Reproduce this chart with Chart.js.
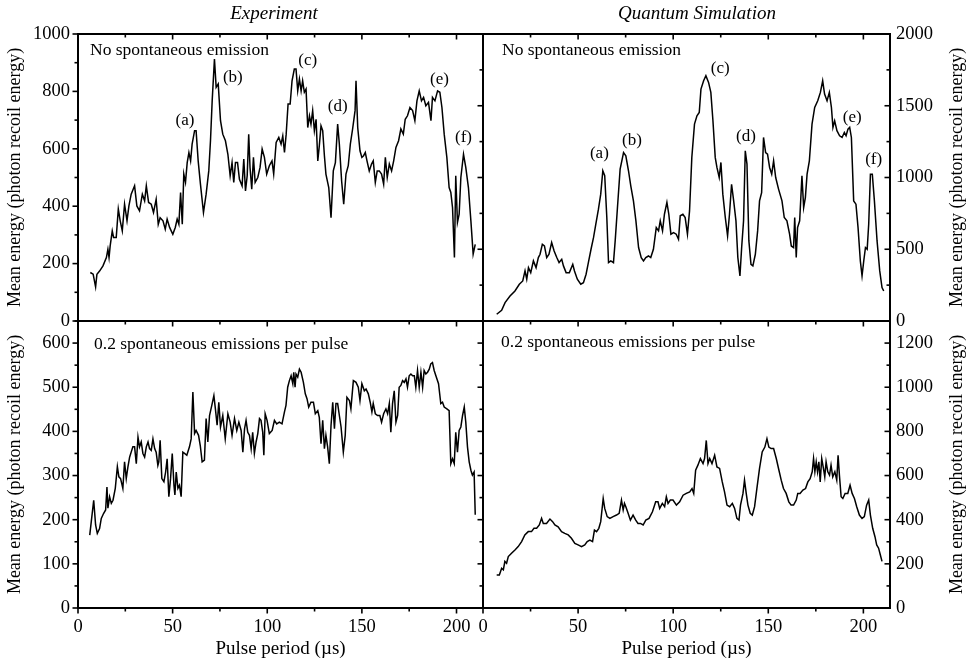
<!DOCTYPE html>
<html><head><meta charset="utf-8">
<script src="https://cdn.jsdelivr.net/npm/chart.js@4/dist/chart.umd.min.js"></script>
<style>
html,body{margin:0;padding:0;background:#fff;}
#wrap{position:relative;width:966px;height:664px;background:#fff;}
canvas{position:absolute;left:0;top:0;}
</style></head><body>
<div id="wrap">
<canvas id="tl" width="966" height="664"></canvas>
<canvas id="bl" width="966" height="664"></canvas>
<canvas id="tr" width="966" height="664"></canvas>
<canvas id="br" width="966" height="664"></canvas>
</div>
<script>
// ---------- data (pulse period in µs, mean energy in photon recoil energies) ----------
const columnTitles = ["Experiment", "Quantum Simulation"];
const panelNotes = ["No spontaneous emission", "0.2 spontaneous emissions per pulse"];
const xTitle = "Pulse period (\u00b5s)";
const yTitle = "Mean energy (photon recoil energy)";
const peakNames = ["(a)", "(b)", "(c)", "(d)", "(e)", "(f)"];
const expPeakAnchors = [[56.5,700],[81.8,850],[121.4,909],[137.2,746],[191,843],[203.7,641]];
const simPeakAnchors = [[61.2,1164],[78.3,1261],[124.7,1761],[138.3,1284],[194.1,1419],[205.4,1127]];

const expNoSE = [[6.5,169],[8,163],[9.3,119],[10,163],[11.4,174],[13.2,192],[15,221],[15.8,250],[16.4,221],[17,262],[18.1,314],[18.8,291],[20.2,291],[21.3,390],[22.3,349],[23.4,314],[24.6,407],[25.9,349],[26.9,401],[28.1,442],[29.9,471],[31.1,401],[32.5,384],[34,442],[35.2,419],[36.1,471],[37.3,413],[38.7,407],[39.9,378],[41.3,424],[42.4,337],[43.4,360],[44.9,349],[46.1,320],[47.1,355],[48.4,326],[50.1,302],[51.4,326],[52.4,355],[53.3,337],[54.2,448],[55.1,337],[55.9,512],[56.8,483],[57.7,552],[58.6,587],[59.5,558],[60.3,616],[61.6,663],[62.4,663],[63.5,558],[64.7,477],[66.3,378],[67.7,442],[69.1,523],[70,628],[70.9,767],[72.1,913],[73,814],[74.1,826],[75.3,698],[76.5,651],[77.9,628],[79.2,581],[80.4,506],[81.4,552],[82.3,483],[83.2,552],[84.3,552],[85.3,494],[86.7,471],[87.6,564],[88.5,453],[89.4,506],[90.2,651],[90.9,535],[91.8,459],[92.7,570],[93.6,483],[95,500],[96.2,535],[97.3,599],[98.5,570],[99.7,512],[101.1,541],[102.5,558],[103.4,512],[104.7,622],[106.1,640],[107.3,616],[108.2,645],[109.1,587],[110,651],[111,756],[112.1,756],[113.1,837],[114.3,878],[115.2,878],[116.1,802],[117,843],[117.9,802],[118.7,837],[119.6,797],[120.5,808],[121.4,674],[122.3,715],[123.1,686],[124,733],[124.9,663],[125.8,703],[126.7,558],[127.5,610],[128.4,680],[129.3,663],[130.2,576],[131,512],[132.5,465],[133.7,360],[134.9,523],[136,552],[137.2,686],[138.1,616],[139.3,488],[140.4,407],[141.6,512],[142.8,541],[143.9,616],[145.1,669],[146.4,733],[146.9,837],[147.8,674],[149,593],[150,570],[150.9,576],[151.8,587],[152.7,558],[153.9,523],[155.1,547],[156,558],[157.1,483],[158.1,523],[159.2,523],[160.4,512],[161.5,477],[162.4,570],[163.4,500],[164.5,547],[165.7,523],[166.8,558],[168,605],[169.4,628],[170.6,669],[171.9,651],[172.9,703],[174.1,715],[175.4,744],[176.8,733],[178,698],[179.1,767],[180.3,802],[181.5,767],[182.6,779],[183.8,750],[185.2,762],[186.5,698],[187.3,779],[188.6,767],[190,802],[191.2,797],[192.3,744],[193.5,651],[194.9,570],[196.1,465],[197,448],[197.9,395],[198.9,221],[199.6,506],[200.5,343],[201.4,372],[202.3,500],[203.7,581],[204.9,535],[206.3,465],[207.6,349],[208.8,233],[209.9,267]];

const simNoSE = [[7.2,47],[9.8,74],[11.6,128],[14.2,174],[16.8,209],[19.1,256],[20.9,279],[22.1,349],[23,291],[23.9,372],[25.1,337],[26.5,419],[27.9,372],[29.1,442],[30,465],[31.2,535],[32.3,523],[33.5,442],[34.7,465],[36.1,547],[37.4,488],[38.8,442],[40,407],[41.4,430],[42.3,384],[43.7,337],[45.4,337],[47.2,395],[48.1,349],[49.6,291],[51.4,256],[52.8,267],[54.2,326],[55.4,407],[56.8,500],[58.1,581],[59.3,674],[60.7,779],[61.9,884],[63,1047],[64,1012],[65.1,721],[66,407],[67.2,419],[68.6,407],[69.5,558],[70.7,791],[72.1,1058],[73.9,1174],[75.1,1151],[76.5,1047],[77.7,942],[79.1,837],[80.4,698],[81.8,512],[83.2,442],[84.4,419],[85.6,442],[87,453],[88.2,442],[89.6,500],[91.1,651],[92.3,628],[93.2,698],[94.4,628],[95.4,744],[96.7,826],[97.7,744],[98.8,605],[100.2,616],[101.6,605],[102.8,570],[103.7,733],[105.1,744],[106.3,721],[107.5,605],[108.6,767],[109.8,1140],[111.2,1372],[112.5,1430],[113.7,1453],[114.6,1616],[116,1674],[117.2,1709],[118.6,1663],[119.8,1593],[120.9,1395],[122.1,1140],[123,1070],[124.2,1000],[125.1,1105],[126.1,884],[127.4,721],[128.6,593],[129.6,744],[130.7,953],[131.8,837],[133,698],[134,442],[135.1,314],[136,512],[137,698],[137.9,1186],[138.8,1093],[139.8,558],[140.9,395],[141.9,384],[143.2,465],[144.4,628],[145.4,837],[146.5,895],[147.5,1279],[148.6,1174],[149.6,1163],[150.7,1070],[151.8,1023],[152.8,1116],[153.9,1000],[155.4,919],[157.2,837],[158.4,721],[159.8,698],[161.2,605],[162.1,523],[163.3,512],[163.9,721],[164.7,442],[165.4,651],[166.5,698],[167.7,1012],[168.6,791],[169.5,860],[170.4,1023],[171.6,1116],[173,1372],[174.4,1488],[176,1535],[177.4,1593],[178.6,1674],[179.6,1581],[180.9,1535],[182.1,1593],[183.2,1488],[184,1349],[184.9,1395],[186.1,1326],[187.5,1291],[188.8,1279],[190,1314],[190.9,1291],[191.9,1337],[192.8,1349],[193.7,1279],[194.9,837],[196.1,814],[197.2,651],[198.4,419],[199.3,314],[200.2,419],[201.1,512],[202,500],[202.8,674],[203.7,1023],[204.7,1023],[205.8,837],[207.2,558],[208.6,349],[209.8,233],[210.7,209]];

const expSE = [[6.2,165],[7,195],[8.3,244],[9.3,188],[10.2,169],[11.4,180],[12.3,203],[13.5,214],[14.6,222],[15.3,274],[15.8,226],[16.7,252],[17.6,237],[18.5,244],[19.7,271],[20.8,320],[21.6,297],[22.5,293],[23.7,271],[24.6,331],[25.5,293],[26.4,320],[27.3,342],[28.1,353],[29,365],[29.9,365],[30.8,327],[31.7,387],[32.5,365],[33.4,376],[34.3,350],[35.2,342],[36.1,365],[37,376],[37.8,361],[38.7,357],[39.6,383],[40.5,361],[41.3,353],[42.2,323],[42.7,331],[43.4,380],[44.3,293],[45.4,286],[46.3,308],[47.1,338],[48,252],[48.9,293],[49.8,350],[50.7,278],[51.2,256],[51.9,308],[52.8,271],[53.6,278],[54.5,252],[55.4,353],[56.3,350],[57.5,346],[58.9,365],[59.8,383],[60.7,489],[61.6,395],[62.4,402],[63.7,391],[64.6,368],[65.6,331],[66.8,335],[67.7,429],[68.6,376],[69.5,436],[70.7,459],[71.8,481],[72.6,451],[73.5,414],[74.4,466],[75.3,410],[76.5,436],[77.8,383],[79.2,440],[80.4,421],[81.4,391],[82.7,429],[83.9,402],[85,421],[86.2,402],[87.1,353],[88,406],[88.8,425],[89.7,398],[90.6,391],[91.5,361],[92.3,398],[93.2,350],[94.1,376],[95,395],[95.9,429],[96.7,425],[97.6,398],[98.2,346],[98.9,440],[99.9,425],[101.1,395],[102.6,402],[103.8,425],[105,417],[106.4,421],[107.8,417],[109.1,444],[109.9,459],[110.8,500],[111.7,515],[112.6,526],[113.5,508],[114,534],[114.7,500],[115.2,530],[116.1,523],[117,541],[117.9,534],[119.1,511],[120.1,485],[121,474],[121.9,455],[123.1,466],[124.4,466],[125.4,440],[126.7,447],[127.5,432],[128.4,372],[129.3,425],[130.2,361],[131,391],[131.9,365],[132.8,327],[133.7,414],[134.6,466],[135.5,406],[136.3,463],[137.2,463],[138.1,436],[139,410],[140.2,353],[141.2,391],[142.1,477],[143.4,470],[144.2,451],[145.5,515],[146.9,511],[148.1,500],[149,470],[150,508],[151.3,492],[152.2,496],[153.4,485],[154.4,466],[155.3,444],[156,463],[157.1,440],[158.3,436],[159.5,436],[160.4,421],[161.5,440],[162.7,451],[163.6,440],[164.5,463],[165.3,398],[166.2,463],[167.1,492],[168,421],[168.9,436],[169.7,500],[170.6,504],[171.5,515],[172.4,511],[173.3,519],[174.1,500],[175,526],[175.9,530],[176.8,526],[177.7,526],[178.5,500],[179.4,538],[180.3,500],[181.2,534],[182.1,500],[182.9,538],[183.8,530],[184.7,534],[185.6,541],[186.4,553],[187.3,556],[188.2,538],[189.1,526],[190.5,508],[191.7,463],[192.6,466],[193.5,455],[194.9,451],[196.1,447],[197,327],[197.9,338],[198.8,327],[199.6,398],[200.5,353],[201.4,402],[202.3,410],[203.2,436],[204.1,455],[204.9,421],[205.8,365],[206.7,331],[207.6,312],[208.4,301],[209.3,308],[209.9,211]];

const simSE = [[7.2,150],[8.6,150],[9.8,180],[10.7,173],[11.5,211],[12.4,203],[13.3,233],[15,248],[16.8,263],[18.5,278],[20.3,301],[22,331],[23.8,346],[25.5,346],[26.8,361],[28.2,361],[29.6,376],[30.8,406],[31.7,383],[33.4,383],[35.2,403],[36.6,391],[37.8,376],[39.5,368],[41.3,346],[43,338],[44.8,331],[46.5,316],[48.3,293],[50,286],[51.8,278],[53.5,286],[54.8,301],[56.2,308],[57.6,301],[58.6,353],[59.7,346],[60.9,361],[61.9,391],[63.2,496],[64,451],[65.3,414],[66.7,406],[68.4,414],[70.2,421],[71.6,429],[72.8,489],[73.7,444],[74.4,474],[75.1,459],[76.3,429],[77.5,398],[78.9,421],[80.3,398],[81.5,383],[82.8,383],[84.2,376],[85.6,398],[87.3,406],[89.1,436],[90.8,481],[92,481],[92.9,451],[94.3,474],[95.5,459],[96.4,504],[97.3,474],[98.5,489],[99.9,489],[101.7,466],[103.4,481],[105.2,511],[106.9,519],[108.7,526],[109.9,541],[110.8,519],[111.8,624],[113,647],[114.3,677],[115.7,654],[116.5,677],[117.4,759],[118.3,654],[119.2,677],[120.4,654],[121.8,692],[123,639],[124.4,632],[125.8,571],[127,526],[128.3,466],[129.7,459],[131.1,474],[132.3,451],[133.5,406],[134.6,398],[135.4,466],[136.7,519],[137.5,579],[138.4,519],[139.3,466],[140.5,429],[141.6,421],[142.8,459],[144,541],[145.4,632],[146.8,707],[148.2,729],[149.3,767],[150.3,729],[151.5,722],[152.8,722],[154.2,677],[155.6,624],[156.8,579],[158,541],[159.4,519],[160.8,481],[162,466],[163.3,466],[164.7,489],[165.5,519],[166.7,519],[168.2,534],[169.6,541],[170.8,571],[172,586],[173.1,617],[173.8,677],[174.5,617],[175.2,662],[175.9,617],[176.6,662],[177.3,571],[178.1,677],[179,632],[179.7,594],[180.4,662],[181.3,617],[182.2,602],[183,647],[183.9,594],[185,617],[186,579],[186.7,692],[187.4,602],[188.3,504],[189.2,496],[190.4,519],[191.8,519],[193,556],[194.1,519],[195.3,496],[196.5,459],[197.9,421],[199.3,406],[200.5,414],[201.7,466],[202.8,489],[203.7,421],[204.9,361],[206.1,323],[207,286],[208,271],[208.9,241],[209.8,211]];

// ---------- styling ----------
const FONT = "'Liberation Serif', 'Times New Roman', serif";
const X_MAX = 214;

function decorPlugin(cfg) {
  return {
    id: 'decor_' + cfg.id,
    afterDatasetsDraw(chart) {
      const ctx = chart.ctx, a = chart.chartArea;
      const xs = chart.scales.x, ys = chart.scales.y;
      ctx.save();
      ctx.strokeStyle = '#000';
      ctx.fillStyle = '#000';
      ctx.lineWidth = 2;
      ctx.strokeRect(a.left, a.top, a.right - a.left, a.bottom - a.top);
      ctx.lineWidth = 1.6;
      cfg.ticks.forEach(t => {
        const vert = (t.edge === 'left' || t.edge === 'right');
        const sc = vert ? ys : xs;
        for (let v = 0; v <= sc.max + 1e-9; v += t.step) {
          const p = sc.getPixelForValue(v);
          const major = Math.abs(v / t.major - Math.round(v / t.major)) < 1e-6;
          const len = major ? 5.5 : 3.5;
          ctx.beginPath();
          if (t.edge === 'left') { const d = t.out ? -len : len; ctx.moveTo(a.left, p); ctx.lineTo(a.left + d, p); }
          if (t.edge === 'right') { const d = t.out ? len : -len; ctx.moveTo(a.right, p); ctx.lineTo(a.right + d, p); }
          if (t.edge === 'top') { const d = t.out ? -len : len; ctx.moveTo(p, a.top); ctx.lineTo(p, a.top + d); }
          if (t.edge === 'bottom') { const d = t.out ? len : -len; ctx.moveTo(p, a.bottom); ctx.lineTo(p, a.bottom + d); }
          ctx.stroke();
        }
      });
      ctx.font = '17.5px ' + FONT;
      ctx.textAlign = 'left';
      ctx.textBaseline = 'middle';
      ctx.fillText(cfg.note, a.left + cfg.noteDx, a.top + cfg.noteDy);
      if (cfg.peaks) {
        ctx.font = '17px ' + FONT;
        ctx.textAlign = 'center';
        cfg.peaks.forEach((pk, i) => {
          ctx.fillText(peakNames[i], xs.getPixelForValue(pk[0]), ys.getPixelForValue(pk[1]));
        });
      }
      if (cfg.title) {
        ctx.font = 'italic 19px ' + FONT;
        ctx.textAlign = 'center';
        ctx.fillText(cfg.title, cfg.titleX, 14);
      }
      if (cfg.rightTitle) {
        ctx.font = '18px ' + FONT;
        ctx.textAlign = 'center';
        ctx.translate(957, (a.top + a.bottom) / 2);
        ctx.rotate(-Math.PI / 2);
        ctx.fillText(yTitle, 0, 0);
      }
      ctx.restore();
    }
  };
}

function makePanel(cfg) {
  const tickFont = { family: FONT, size: 18.5 };
  const plain = v => String(v);
  return new Chart(document.getElementById(cfg.id), {
    type: 'line',
    data: { datasets: [{
      data: cfg.data.map(([x, y]) => ({ x, y })),
      borderColor: '#000', borderWidth: 1.5, pointRadius: 0, tension: 0, fill: false
    }] },
    options: {
      responsive: false, animation: false, events: [],
      layout: { padding: cfg.padding },
      plugins: { legend: { display: false }, tooltip: { enabled: false } },
      scales: {
        x: {
          type: 'linear', min: 0, max: X_MAX, display: cfg.xLabels, position: 'bottom',
          grid: { display: false, drawTicks: false }, border: { display: false },
          ticks: { stepSize: 50, includeBounds: false, padding: 8, color: '#000', font: tickFont, maxRotation: 0, autoSkip: false, callback: plain },
          title: { display: true, text: xTitle, color: '#000', font: { family: FONT, size: 19 }, padding: { top: 0, bottom: 4 } },
          afterFit: s => { s.height = cfg.xLabels ? 56 : 0; }
        },
        y: {
          type: 'linear', min: 0, max: cfg.yMax, position: cfg.side,
          grid: { display: false, drawTicks: false }, border: { display: false },
          ticks: { stepSize: cfg.yStep, includeBounds: false, padding: cfg.side === 'left' ? 8 : 6, color: '#000', font: tickFont, autoSkip: false, callback: plain },
          title: cfg.side === 'left'
            ? { display: true, text: yTitle, color: '#000', font: { family: FONT, size: 18 }, padding: { top: 4, bottom: 0 } }
            : { display: false },
          afterFit: s => { s.width = cfg.yWidth; }
        }
      }
    },
    plugins: [decorPlugin(cfg)]
  });
}

makePanel({
  id: 'tl', data: expNoSE, yMax: 1000, yStep: 200, side: 'left', yWidth: 78, xLabels: false,
  padding: { left: 0, top: 34, right: 483, bottom: 343 },
  ticks: [ { edge: 'left', step: 100, major: 200, out: true }, { edge: 'top', step: 25, major: 50, out: false } ],
  note: panelNotes[0], noteDx: 12, noteDy: 16, peaks: expPeakAnchors,
  title: columnTitles[0], titleX: 274
});
makePanel({
  id: 'bl', data: expSE, yMax: 650, yStep: 100, side: 'left', yWidth: 78, xLabels: true,
  padding: { left: 0, top: 321, right: 483, bottom: 0 },
  ticks: [ { edge: 'left', step: 50, major: 100, out: true }, { edge: 'top', step: 25, major: 50, out: false },
           { edge: 'bottom', step: 25, major: 50, out: true } ],
  note: panelNotes[1], noteDx: 16, noteDy: 23
});
makePanel({
  id: 'tr', data: simNoSE, yMax: 2000, yStep: 500, side: 'right', yWidth: 76, xLabels: false,
  padding: { left: 483, top: 34, right: 0, bottom: 343 },
  ticks: [ { edge: 'left', step: 250, major: 500, out: true }, { edge: 'right', step: 250, major: 500, out: false },
           { edge: 'top', step: 25, major: 50, out: false } ],
  note: panelNotes[0], noteDx: 19, noteDy: 16, peaks: simPeakAnchors,
  title: columnTitles[1], titleX: 697, rightTitle: true
});
makePanel({
  id: 'br', data: simSE, yMax: 1300, yStep: 200, side: 'right', yWidth: 76, xLabels: true,
  padding: { left: 483, top: 321, right: 0, bottom: 0 },
  ticks: [ { edge: 'left', step: 100, major: 200, out: true }, { edge: 'right', step: 100, major: 200, out: false },
           { edge: 'top', step: 25, major: 50, out: false }, { edge: 'bottom', step: 25, major: 50, out: true } ],
  note: panelNotes[1], noteDx: 18, noteDy: 21, rightTitle: true
});
</script>
</body></html>
